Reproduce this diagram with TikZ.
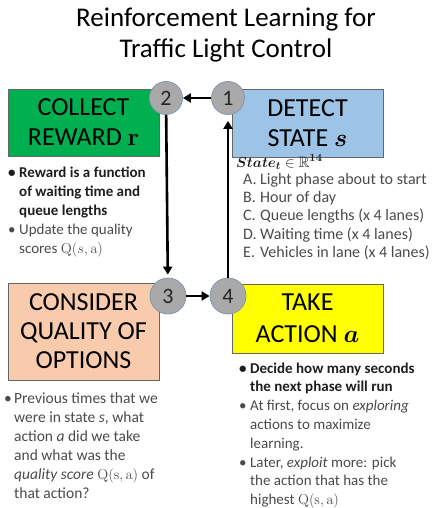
\documentclass[tikz,border=0pt]{standalone}
\usepackage{amsmath,amssymb,bm}
\usepackage[no-math]{fontspec}
\setmainfont{Carlito}
\usetikzlibrary{arrows.meta}

\definecolor{rewardgreen}{HTML}{00B050}
\definecolor{stateblue}{HTML}{9DC3E6}
\definecolor{optionpeach}{HTML}{F8CBAD}
\definecolor{actionyellow}{HTML}{FFFF00}
\definecolor{numgray}{HTML}{A9A9A9}
\definecolor{numedge}{HTML}{8496B0}
\definecolor{notegray}{HTML}{4A4A4A}
\definecolor{notedark}{HTML}{1E1E1E}

% bullet and hanging indent for the note lists
\newcommand{\notebullet}[1]{\makebox[#1][l]{•}}
\newcommand{\noteindent}[1]{\hspace*{#1}}

\begin{document}
\begin{tikzpicture}[x=1pt,y=-1pt,
  stage/.style={draw=black!60, line width=0.7pt, minimum width=151pt,
    text=black, font=\fontsize{26}{30}\selectfont, align=center, inner sep=0pt},
  num/.style={circle, fill=numgray, draw=numedge, line width=0.8pt,
    minimum size=33pt, inner sep=0pt, text=black!85,
    font=\fontsize{22}{22}\selectfont},
  bignum/.style={num, minimum size=36pt},
  flow/.style={line width=2.6pt, -{Triangle[length=8pt,width=9pt]}},
  % notes are placed by the baseline of their last line
  notes/.style={anchor=base west, align=left, inner sep=0pt,
    font=\fontsize{15}{19}\selectfont, text=notegray},
]
\useasboundingbox (0,0) rectangle (435,508);

% title
\node (title) [anchor=base, align=center, inner sep=0pt,
  font=\fontsize{27}{31}\selectfont, text=black]
  at (226,58) {Reinforcement Learning for\\Traffic Light Control};

% the four stages
\node (reward) [stage, fill=rewardgreen, minimum height=67pt] at (83.5,122.5)
  {COLLECT\\REWARD $\mathbf{r}$};
\node (state) [stage, fill=stateblue, minimum height=68pt] at (307.5,123)
  {DETECT\\STATE $\boldsymbol{s}$};
\node (consider) [stage, fill=optionpeach, minimum height=97pt,
  font=\fontsize{26}{29}\selectfont] at (83.5,331.5)
  {CONSIDER\\QUALITY OF\\OPTIONS};
\node (action) [stage, fill=actionyellow, minimum height=69pt] at (307.5,318.5)
  {TAKE\\[2pt]ACTION $\boldsymbol{a}$};

% numbered steps
\node (n1) [num] at (228,98) {1};
\node (n2) [num] at (166,98) {2};
\node (n3) [bignum] at (168,296) {3};
\node (n4) [bignum] at (228,296) {4};

% cycle arrows
\draw[flow] (n1) -- (n2);
\draw[flow, shorten >=3pt] (n2) -- (n3);
\draw[flow] (n3) -- (n4);
\draw[flow, shorten >=6pt] (n4) -- (n1);

% notes under each stage
\node (rewardnotes) [notes] at (8,253)
  {{\color{notedark}\bfseries\notebullet{11pt}Reward is a function}\\
   {\color{notedark}\bfseries\noteindent{11pt}of waiting time and}\\
   {\color{notedark}\bfseries\noteindent{11pt}queue lengths}\\
   \notebullet{11pt}Update the quality\\
   \noteindent{11pt}scores $\mathrm{Q}(s,\mathrm{a})$};

\node (statelabel) [notes, text=notedark, font=\fontsize{15}{18}\selectfont]
  at (236,167) {$\boldsymbol{State_t}\in\mathbb{R}^{\mathbf{14}}$};
\node (statenotes) [notes, font=\fontsize{16}{18.3}\selectfont] at (236,257.5)
  {\noteindent{7pt}\makebox[17pt][l]{A.}Light phase about to start\\
   \noteindent{7pt}\makebox[17pt][l]{B.}Hour of day\\
   \noteindent{7pt}\makebox[17pt][l]{C.}Queue lengths (x 4 lanes)\\
   \noteindent{7pt}\makebox[17pt][l]{D.}Waiting time (x 4 lanes)\\
   \noteindent{7pt}\makebox[17pt][l]{E.}Vehicles in lane (x 4 lanes)};

\node (considernotes) [notes, font=\fontsize{15.5}{19}\selectfont] at (4,498)
  {\notebullet{10pt}Previous times that we\\
   \noteindent{10pt}were in state \textit{s}, what\\
   \noteindent{10pt}action \textit{a} did we take\\
   \noteindent{10pt}and what was the\\
   \noteindent{10pt}\textit{quality score} $\mathrm{Q(s,a)}$ of\\
   \noteindent{10pt}that action?};

\node (actionnotes) [notes, font=\fontsize{15}{18.8}\selectfont] at (239,504.6)
  {{\color{notedark}\bfseries\notebullet{11pt}Decide how many seconds}\\
   {\color{notedark}\bfseries\noteindent{11pt}the next phase will run}\\
   \notebullet{11pt}At first, focus on \textit{exploring}\\
   \noteindent{11pt}actions to maximize\\
   \noteindent{11pt}learning.\\
   \notebullet{11pt}Later, \textit{exploit} more: pick\\
   \noteindent{11pt}the action that has the\\
   \noteindent{11pt}highest $\mathrm{Q(s,a)}$};
\end{tikzpicture}
\end{document}
